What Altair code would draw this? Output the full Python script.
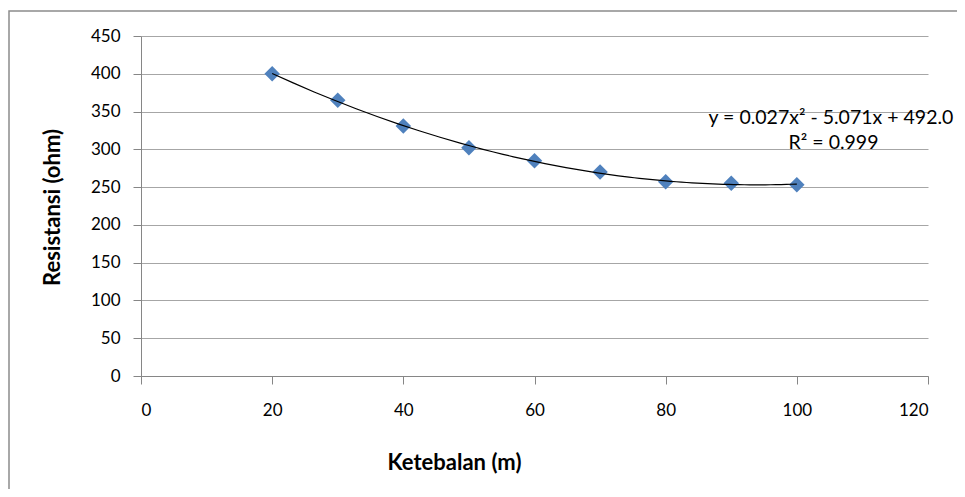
import altair as alt
import pandas as pd

ketebalan = [20, 30, 40, 50, 60, 70, 80, 90, 100]
resistansi = [400, 365, 331, 302, 285, 270, 257, 255, 253]

eq_text = ["y = 0.027x² - 5.071x + 492.0", "R² = 0.999"]
eq_x = [105.2, 105.6]
eq_y = [342, 309]

df = pd.DataFrame({"x": ketebalan, "y": resistansi})
lab = pd.DataFrame({"t": eq_text, "x": eq_x, "y": eq_y})

TICKFONT = "Lato, sans-serif"
TITLEFONT = "Lato, sans-serif"

xscale = alt.Scale(domain=[0, 120], nice=False, zero=False)
yscale = alt.Scale(domain=[0, 450], nice=False)

xaxis = alt.Axis(
    values=[0, 20, 40, 60, 80, 100, 120], grid=False, title="Ketebalan (m)",
    domainColor="#868686", tickColor="#868686", tickSize=8, labelOverlap=False,
    labelFont=TICKFONT, labelFontSize=17, labelColor="#000000", labelPadding=18,
    titleFont=TITLEFONT, titleFontSize=22, titleFontWeight="bold", titleColor="#000000",
    titleX=313, titleY=86, titleBaseline="middle", titleAnchor="middle",
)
yaxis = alt.Axis(
    values=[0, 50, 100, 150, 200, 250, 300, 350, 400, 450], grid=True,
    gridColor="#A6A6A6", gridWidth=1, title="Resistansi (ohm)", labelOverlap=False,
    domainColor="#868686", tickColor="#868686", tickSize=8,
    labelFont=TICKFONT, labelFontSize=17, labelColor="#000000", labelPadding=13,
    titleFont=TITLEFONT, titleFontSize=22, titleFontWeight="bold", titleColor="#000000",
    titleX=-89, titleY=171, titleAngle=-90, titleBaseline="middle", titleAnchor="middle",
)

X = alt.X("x:Q", scale=xscale, axis=xaxis)
Y = alt.Y("y:Q", scale=yscale, axis=yaxis)

base = alt.Chart(df)

frame = alt.Chart(pd.DataFrame({"a": [0]})).mark_rect(
    fill=None, stroke="#8C8C8C", strokeWidth=1.5
).encode(x=alt.value(-132), x2=alt.value(830), y=alt.value(-25), y2=alt.value(470))

points = base.mark_point(shape="diamond", filled=True, size=240, color="#4F81BD", opacity=1).encode(
    x=X, y=Y,
)

trend = base.transform_regression("x", "y", method="poly", order=2).mark_line(
    color="#000000", strokeWidth=1.2
).encode(x=X, y=Y)

text = alt.Chart(lab).mark_text(
    font="Lato, sans-serif", fontSize=19.5, color="#000000", align="center", baseline="middle"
).encode(x=X, y=Y, text="t:N")

chart = alt.layer(frame, points, trend, text).properties(
    width=787, height=340,
    autosize=alt.AutoSizeParams(type="none"),
    padding={"left": 133, "top": 28, "right": 29, "bottom": 113},
).configure_view(stroke=None)

chart.save("out.html", embed_options={"renderer": "svg", "actions": False})
